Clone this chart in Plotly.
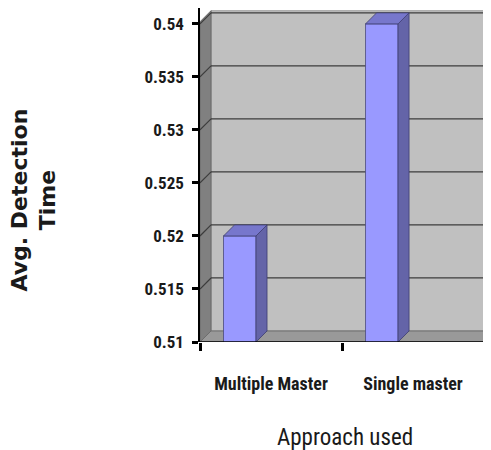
import plotly.graph_objects as go

# ---- data ----
categories = ["Multiple Master", "Single master"]
values = [0.52, 0.54]
y_ticks = [0.51, 0.515, 0.52, 0.525, 0.53, 0.535, 0.54]
y_tick_labels = ["0.51", "0.515", "0.52", "0.525", "0.53", "0.535", "0.54"]
y_title = "Avg. Detection<br>Time"
x_title = "Approach used"

# ---- geometry / style ----
FLOOR = 0.51
Y_TOP = 0.5415
X_MAX = 2.049
DX = 0.0775          # depth offset in x units (~11px)
DY = 0.00104         # depth offset in y units (~11px)
WALL_TOP = 0.5402
BAR_OFF = 0.28
BAR_W = 0.229
NARROW = "Liberation Sans Narrow, Roboto Condensed, Arial Narrow, Liberation Sans, sans-serif"
PAGE_PAD = 8  # default body margin of the html page

centers = [i + BAR_OFF for i in range(len(categories))]

fig = go.Figure()

# front faces
fig.add_trace(go.Bar(
    x=centers, y=values, width=BAR_W,
    marker=dict(color="#9999FF", line=dict(color="#4a4a7a", width=0.8)),
    hoverinfo="skip", showlegend=False,
))

# side + top faces of the pseudo-3D bars
for c, v in zip(centers, values):
    r = c + BAR_W / 2
    l = c - BAR_W / 2
    fig.add_trace(go.Scatter(
        x=[r, r + DX, r + DX, r, r], y=[FLOOR, FLOOR + DY, v + DY, v, FLOOR],
        fill="toself", fillcolor="#6464A8", mode="lines",
        line=dict(color="#3e3e70", width=0.8), hoverinfo="skip", showlegend=False,
    ))
    fig.add_trace(go.Scatter(
        x=[l, r, r + DX, l + DX, l], y=[v, v, v + DY, v + DY, v],
        fill="toself", fillcolor="#7777CC", mode="lines",
        line=dict(color="#3e3e70", width=0.8), hoverinfo="skip", showlegend=False,
    ))

shapes = []
# back wall
shapes.append(dict(type="rect", xref="x", yref="y", layer="below",
                   x0=DX, x1=X_MAX + 0.2, y0=FLOOR + DY, y1=WALL_TOP + DY,
                   fillcolor="#C0C0C0", line=dict(color="#9a9a9a", width=1)))
# side wall
shapes.append(dict(type="path", xref="x", yref="y", layer="below",
                   path=f"M 0 {FLOOR} L 0 {WALL_TOP} L {DX} {WALL_TOP + DY} L {DX} {FLOOR + DY} Z",
                   fillcolor="#808080", line=dict(color="#6a6a6a", width=1)))
# floor
shapes.append(dict(type="path", xref="x", yref="y", layer="below",
                   path=f"M 0 {FLOOR} L {DX} {FLOOR + DY} L {2 + DX} {FLOOR + DY} L 2 {FLOOR} Z",
                   fillcolor="#999999", line=dict(color="#6e6e6e", width=1)))
# gridlines on walls
for t in y_ticks[1:]:
    shapes.append(dict(type="line", xref="x", yref="y", layer="below",
                       x0=DX, x1=X_MAX + 0.2, y0=t + DY, y1=t + DY,
                       line=dict(color="#3c3c3c", width=1.2)))
    shapes.append(dict(type="line", xref="x", yref="y", layer="below",
                       x0=0, x1=DX, y0=t, y1=t + DY,
                       line=dict(color="#3c3c3c", width=1.2)))
# x axis line
shapes.append(dict(type="line", xref="x", yref="y", layer="above",
                   x0=0, x1=2, y0=FLOOR, y1=FLOOR, line=dict(color="black", width=1.5)))

fig.update_layout(
    width=491 - PAGE_PAD, height=450 - PAGE_PAD,
    margin=dict(l=200 - PAGE_PAD, r=0, t=8 - PAGE_PAD, b=108),
    paper_bgcolor="white", plot_bgcolor="white",
    shapes=shapes,
    showlegend=False,
    xaxis=dict(
        range=[0, X_MAX], showgrid=False, zeroline=False, showline=False,
        tickvals=[0.5, 1.5], ticktext=categories, ticks="",
        ticklabelstandoff=29,
        tickfont=dict(family=NARROW, size=18, color="#1a1a1a", weight="bold"),
        minor=dict(tickvals=[0, 1, 2], ticks="outside", ticklen=8, tickwidth=2.5,
                   tickcolor="black", showgrid=False),
    ),
    yaxis=dict(
        range=[FLOOR, Y_TOP], showgrid=False, zeroline=False,
        showline=True, linecolor="black", linewidth=1.5,
        tickvals=y_ticks, ticktext=y_tick_labels,
        ticks="outside", ticklen=6, tickwidth=3, tickcolor="black",
        ticklabelstandoff=5,
        tickfont=dict(family=NARROW, size=17, color="#1a1a1a", weight="bold"),
    ),
    annotations=[
        dict(text=y_title, textangle=-90, xref="paper", yref="paper",
             x=(33.5 - 200) / 291, y=(342 - 200) / 334, xanchor="center", yanchor="middle",
             showarrow=False, font=dict(family="DejaVu Sans, Verdana, sans-serif", size=22,
                                        color="#1a1a1a", weight="bold")),
        dict(text=x_title, xref="paper", yref="paper",
             x=(345 - 200) / 291, y=(342 - 437) / 334, xanchor="center", yanchor="middle",
             showarrow=False, font=dict(family=NARROW, size=23, color="#1a1a1a")),
    ],
)

fig.write_html("out.html")
